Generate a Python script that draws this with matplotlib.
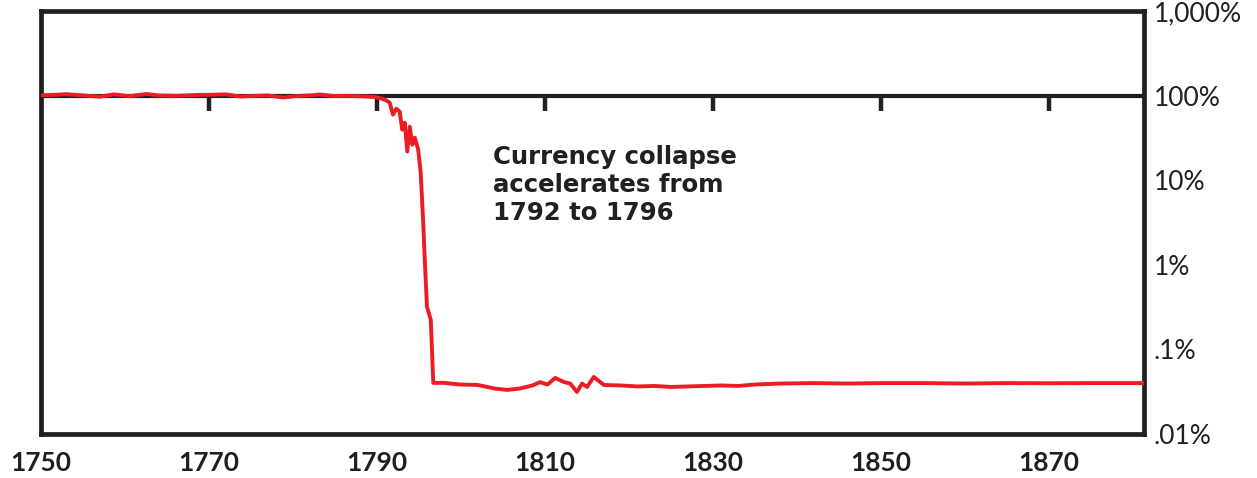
import matplotlib.pyplot as plt
from matplotlib.ticker import FixedLocator, FixedFormatter

# value of the currency relative to par, in percent (log scale)
years = [1750.0, 1751.5, 1753.0, 1755.0, 1757.0, 1758.7, 1760.5, 1762.6, 1764.0,
         1766.0, 1768.9, 1770.5, 1772.0, 1773.7, 1775.5, 1777.0, 1778.8, 1780.5,
         1782.0, 1783.2, 1784.8, 1786.5, 1788.8, 1789.8, 1790.4, 1791.0, 1791.5,
         1791.9, 1792.3, 1792.7, 1793.0, 1793.3, 1793.6, 1793.9, 1794.2, 1794.5,
         1794.9, 1795.2, 1795.5, 1795.7, 1795.95, 1796.4, 1796.7, 1798.0, 1799.9,
         1802.0, 1804.0, 1805.5, 1807.0, 1808.5, 1809.4, 1810.3, 1811.2, 1812.3,
         1813.0, 1813.8, 1814.4, 1815.0, 1815.8, 1817.0, 1819.0, 1821.0, 1823.0,
         1825.0, 1827.0, 1829.0, 1831.0, 1833.0, 1835.0, 1838.0, 1842.0, 1846.0,
         1850.0, 1855.0, 1860.0, 1865.0, 1870.0, 1875.0, 1881.5]
value_pct = [101.0, 102.0, 104.0, 100.5, 97.0, 103.5, 98.5, 104.5, 100.5,
             99.5, 102.0, 102.5, 103.5, 97.5, 99.5, 100.5, 95.0, 99.0,
             100.5, 103.0, 99.0, 99.5, 97.5, 96.0, 93.0, 88.9, 82.7,
             59.6, 70.0, 64.7, 39.6, 47.9, 21.8, 43.0, 26.3, 31.8,
             23.0, 12.3, 3.14, 1.06, 0.318, 0.224, 0.0402, 0.0402, 0.0385,
             0.0380, 0.0345, 0.0332, 0.0345, 0.0375, 0.0410, 0.0385, 0.0460, 0.0410,
             0.0395, 0.0314, 0.0395, 0.0360, 0.0473, 0.0380, 0.0375, 0.0365, 0.0370,
             0.0360, 0.0365, 0.0370, 0.0375, 0.0370, 0.0385, 0.0395, 0.0400, 0.0395,
             0.0400, 0.0400, 0.0395, 0.0400, 0.0398, 0.0400, 0.0400]

x_ticks = [1750, 1770, 1790, 1810, 1830, 1850, 1870]
par_ticks = [1770, 1790, 1810, 1830, 1850, 1870]
y_ticks = [0.01, 0.1, 1, 10, 100, 1000]
y_labels = ['.01%', '.1%', '1%', '10%', '100%', '1,000%']

ink = '#231f20'
red = '#ed1c24'
plt.rcParams['font.family'] = ['Lato', 'DejaVu Sans']

fig = plt.figure(figsize=(12.57, 4.78), dpi=100)
ax = fig.add_axes([0.0326, 0.092, 0.8775, 0.885])

ax.set_yscale('log')
ax.set_xlim(1750, 1881.3)
ax.set_ylim(0.01, 1000)

# par line with small downward ticks
ax.axhline(100, color=ink, lw=3.0, zorder=2)
ax.plot(par_ticks, [100] * len(par_ticks), ls='none', marker=3,
        markersize=11, markeredgewidth=3.2, color=ink, zorder=2)

ax.plot(years, value_pct, color=red, lw=2.8, zorder=3, solid_joinstyle='round')

for s in ax.spines.values():
    s.set_linewidth(3.4)
    s.set_color(ink)

ax.xaxis.set_major_locator(FixedLocator(x_ticks))
ax.xaxis.set_minor_locator(FixedLocator([]))
ax.tick_params(axis='x', length=0, pad=12, labelsize=19, labelcolor=ink)
for lab in ax.get_xticklabels():
    lab.set_fontweight('bold')

ax.yaxis.tick_right()
ax.yaxis.set_major_locator(FixedLocator(y_ticks))
ax.yaxis.set_major_formatter(FixedFormatter(y_labels))
ax.yaxis.set_minor_locator(FixedLocator([]))
ax.tick_params(axis='y', length=0, pad=7, labelsize=19, labelcolor=ink)

ax.text(1803.8, 26, 'Currency collapse\naccelerates from\n1792 to 1796',
        fontsize=17.6, fontweight='bold', color=ink, va='top', ha='left',
        family='DejaVu Sans', linespacing=1.2)

fig.savefig('out.png', dpi=100)
